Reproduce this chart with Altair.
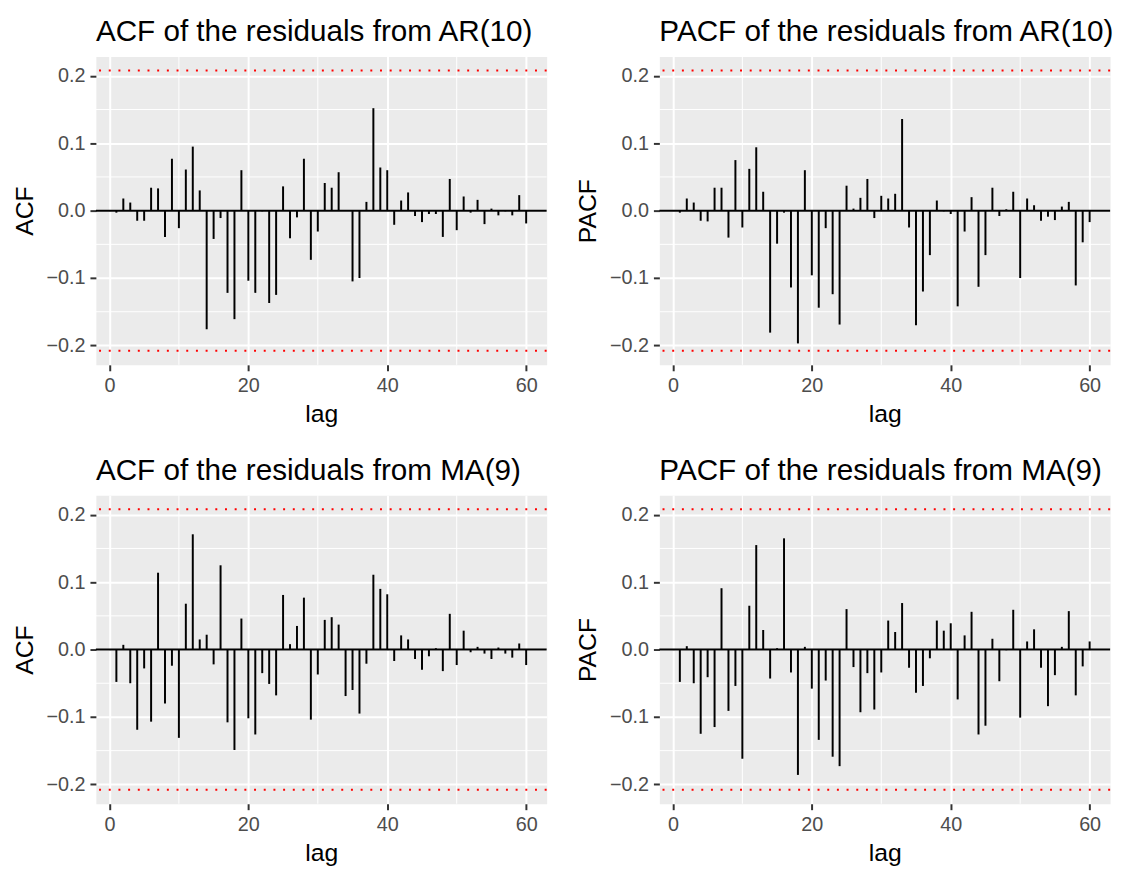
import altair as alt
import pandas as pd

# ---------------- data ----------------
lags = list(range(1, 61))

acf_ar10 = [
    -0.003, 0.018, 0.012, -0.015, -0.015, 0.034, 0.033, -0.039, 0.077, -0.026,
    0.061, 0.095, 0.030, -0.176, -0.042, -0.011, -0.122, -0.161, 0.060, -0.104,
    -0.122, -0.001, -0.137, -0.125, 0.036, -0.041, -0.010, 0.077, -0.073, -0.031,
    0.041, 0.034, 0.057, 0.000, -0.105, -0.100, 0.013, 0.152, 0.064, 0.060,
    -0.021, 0.015, 0.027, -0.008, -0.017, -0.005, -0.005, -0.039, 0.047, -0.029,
    0.021, -0.003, 0.016, -0.020, 0.003, -0.007, -0.001, -0.007, 0.023, -0.019,
]

pacf_ar10 = [
    -0.003, 0.018, 0.012, -0.015, -0.016, 0.034, 0.034, -0.040, 0.075, -0.025,
    0.062, 0.094, 0.028, -0.181, -0.049, -0.003, -0.114, -0.197, 0.060, -0.096,
    -0.144, -0.026, -0.124, -0.169, 0.037, 0.003, 0.019, 0.047, -0.011, 0.022,
    0.018, 0.025, 0.136, -0.025, -0.170, -0.120, -0.066, 0.015, -0.001, -0.005,
    -0.142, -0.031, 0.020, -0.113, -0.066, 0.034, -0.008, 0.002, 0.028, -0.100,
    0.018, 0.008, -0.015, -0.009, -0.014, 0.006, 0.013, -0.111, -0.047, -0.017,
]

acf_ma9 = [
    -0.048, 0.007, -0.050, -0.119, -0.028, -0.107, 0.114, -0.080, -0.024, -0.131,
    0.068, 0.171, 0.015, 0.022, -0.022, 0.125, -0.108, -0.149, 0.046, -0.102,
    -0.126, -0.035, -0.051, -0.068, 0.081, 0.008, 0.035, 0.077, -0.104, -0.037,
    0.044, 0.048, 0.037, -0.069, -0.060, -0.095, -0.021, 0.111, 0.090, 0.082,
    -0.017, 0.021, 0.015, -0.014, -0.030, -0.010, 0.002, -0.032, 0.053, -0.023,
    0.028, -0.004, 0.004, -0.006, -0.014, 0.003, -0.006, -0.012, 0.009, -0.023,
]

pacf_ma9 = [
    -0.048, 0.005, -0.050, -0.125, -0.041, -0.115, 0.091, -0.091, -0.054, -0.162,
    0.065, 0.155, 0.029, -0.043, 0.002, 0.165, -0.034, -0.186, 0.004, -0.058,
    -0.134, -0.046, -0.159, -0.173, 0.060, -0.026, -0.093, -0.035, -0.089, -0.034,
    0.043, 0.026, 0.069, -0.027, -0.064, -0.054, -0.013, 0.043, 0.028, 0.039,
    -0.074, 0.021, 0.056, -0.126, -0.113, 0.016, -0.047, -0.001, 0.059, -0.101,
    0.012, 0.030, -0.027, -0.084, -0.038, 0.004, 0.057, -0.068, -0.025, 0.012,
]

conf_limit = 0.208

titles = [
    "ACF of the residuals from AR(10)",
    "PACF of the residuals from AR(10)",
    "ACF of the residuals from MA(9)",
    "PACF of the residuals from MA(9)",
]
y_titles = ["ACF", "PACF", "ACF", "PACF"]

x_major = [0, 20, 40, 60]
x_minor = [10, 30, 50]
y_major = [-0.2, -0.1, 0.0, 0.1, 0.2]
y_minor = [-0.15, -0.05, 0.05, 0.15]

# ---------------- styling ----------------
FONT = "Liberation Sans"
X_DOMAIN = [-1.95, 62.95]
Y_DOMAIN = [-0.2288, 0.2288]
PANEL_W = 456
PANEL_H = 312

x_scale = alt.Scale(domain=X_DOMAIN, nice=False, zero=False)
y_scale = alt.Scale(domain=Y_DOMAIN, nice=False, zero=False)

MINUS = "\u2212"
y_label_expr = (
    "datum.value < 0 ? '" + MINUS + "' + format(-datum.value, '.1f') "
    ": format(datum.value, '.1f')"
)


def x_axis():
    return alt.Axis(
        values=x_major, grid=True, gridColor="white", gridWidth=2,
        domain=False, ticks=True, tickColor="#333333", tickWidth=2, tickSize=6,
        labelPadding=5, labelFontSize=20, labelColor="#4D4D4D", labelFont=FONT,
        format="d", title="lag", titleFont=FONT, titleFontSize=25,
        titleFontWeight="normal", titleColor="black", titlePadding=6,
    )


def y_axis(title):
    return alt.Axis(
        values=y_major, grid=True, gridColor="white", gridWidth=2,
        domain=False, ticks=True, tickColor="#333333", tickWidth=2, tickSize=6,
        labelPadding=5, labelFontSize=20, labelColor="#4D4D4D", labelFont=FONT,
        labelExpr=y_label_expr, title=title, titleFont=FONT, titleFontSize=25,
        titleFontWeight="normal", titleColor="black", titlePadding=9,
    )


def panel(values, title, ytitle):
    df = pd.DataFrame({"lag": lags, "value": values, "zero": [0.0] * len(lags)})

    def X(field):
        return alt.X(field, type="quantitative", scale=x_scale, axis=x_axis())

    def Y(field):
        return alt.Y(field, type="quantitative", scale=y_scale, axis=y_axis(ytitle))

    minor_v = alt.Chart(pd.DataFrame({"lag": x_minor})).mark_rule(
        color="white", strokeWidth=1
    ).encode(x=X("lag"))
    minor_h = alt.Chart(pd.DataFrame({"value": y_minor})).mark_rule(
        color="white", strokeWidth=1
    ).encode(y=Y("value"))
    bars = alt.Chart(df).mark_rule(color="black", strokeWidth=2).encode(
        x=X("lag"), y=Y("zero"), y2="value"
    )
    zero_line = alt.Chart(pd.DataFrame({"value": [0.0]})).mark_rule(
        color="black", strokeWidth=2
    ).encode(y=Y("value"))
    conf = alt.Chart(pd.DataFrame({"value": [conf_limit, -conf_limit]})).mark_rule(
        color="#FF0000", strokeWidth=2, strokeDash=[2, 7.8]
    ).encode(y=Y("value"))

    return alt.layer(minor_v, minor_h, bars, zero_line, conf).properties(
        width=PANEL_W,
        height=PANEL_H,
        title=alt.TitleParams(
            text=title, anchor="start", frame="group", fontSize=30, font=FONT,
            fontWeight="normal", color="black", offset=-15, baseline="alphabetic",
        ),
    )


p1 = panel(acf_ar10, titles[0], y_titles[0])
p2 = panel(pacf_ar10, titles[1], y_titles[1])
p3 = panel(acf_ma9, titles[2], y_titles[2])
p4 = panel(pacf_ma9, titles[3], y_titles[3])

row1 = alt.hconcat(p1, p2, spacing=27)
row2 = alt.hconcat(p3, p4, spacing=27)

chart = (
    alt.vconcat(row1, row2, spacing=29)
    .properties(padding={"left": 12, "top": 12, "right": 5, "bottom": 5},
                background="white")
    .configure_view(fill="#EBEBEB", stroke="transparent")
)

chart.save("out.html", embed_options={"renderer": "svg", "actions": False})
